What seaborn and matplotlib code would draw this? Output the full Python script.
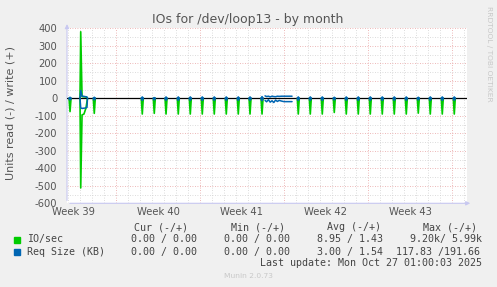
import numpy as np
import pandas as pd
import seaborn as sns
import matplotlib
matplotlib.use("Agg")
import matplotlib.pyplot as plt
from matplotlib.patches import Rectangle

# ---------------- data (days relative to start of Week 40) ----------------
spike_days = [-3.83, -1.81, 2.19, 3.19, 4.17, 5.19, 6.19, 7.19, 8.19, 9.19, 10.19,
              11.17, 12.17, 15.19, 16.19, 17.19, 18.19, 19.19, 20.19, 21.19, 22.19,
              23.19, 24.19, 25.19, 26.19, 27.19, 28.19]
io_read_peak = [-76, -86, -90, -86, -90, -90, -90, -90, -90, -90, -90,
                -90, -90, -90, -90, -90, -81, -90, -90, -90, -90,
                -90, -90, -85, -90, -90, -90]
req_write_peak = [6, 6, 8, 4, 8, 8, 8, 8, 8, 8, 8,
                  8, 10, 8, 8, 8, 6, 8, 8, 8, 8,
                  8, 8, 6, 8, 8, 8]
req_read_peak = [-10, -10, -12, -10, -12, -12, -12, -12, -12, -12, -12,
                 -12, -14, -12, -12, -12, -10, -12, -12, -12, -12,
                 -12, -12, -10, -12, -12, -12]

# big event around Week 39
big_io_write_days = [-3.0, -2.94, -2.83, -2.5, -2.375]
big_io_write_vals = [0, 380, 10, 8, 0]
big_io_read_days = [-3.0, -2.94, -2.83, -2.67, -2.5, -2.375]
big_io_read_vals = [0, -512, -95, -90, -55, 0]
big_req_write_days = [-3.0, -2.94, -2.83, -2.6, -2.42, -2.375]
big_req_write_vals = [0, 45, 12, 10, 8, 0]
big_req_read_days = [-3.0, -2.94, -2.83, -2.6, -2.42, -2.375]
big_req_read_vals = [0, -55, -58, -56, -52, 0]

# noisy request-size stretch in Week 41
noise_days = [12.42, 12.55, 12.7, 12.85, 13.0, 13.15, 13.3, 13.45, 13.6, 13.8, 14.0, 14.3, 14.67]
noise_write = [14, 10, 12, 8, 12, 10, 9, 12, 11, 12, 12, 12, 12]
noise_read = [-12, -20, -8, -22, -14, -24, -10, -18, -12, -16, -19, -19, -19]

week_labels = ["Week 39", "Week 40", "Week 41", "Week 42", "Week 43"]
week_centers = [-3.5, 3.5, 10.5, 17.5, 24.5]
y_ticks = [-600, -500, -400, -300, -200, -100, 0, 100, 200, 300, 400]

legend_header = ["Cur (-/+)", "Min (-/+)", "Avg (-/+)", "Max (-/+)"]
io_stats = ["0.00 / 0.00", "0.00 / 0.00", "8.95 / 1.43", "9.20k/ 5.99k"]
req_stats = ["0.00 / 0.00", "0.00 / 0.00", "3.00 / 1.54", "117.83 /191.66"]

GREEN = "#00cc00"
BLUE = "#0066b3"

# ---------------- build long-form tables ----------------
HW = 1.0 / 12.0  # one 2-hour sample either side
rows_io, rows_req = [], []
seg = 0
for d, r in zip(spike_days, io_read_peak):
    for x, v in [(d - HW, 0), (d, r), (d + HW, 0)]:
        rows_io.append((x, v, seg))
    seg += 1
for x, v in zip(big_io_write_days, big_io_write_vals):
    rows_io.append((x, v, seg))
seg += 1
for x, v in zip(big_io_read_days, big_io_read_vals):
    rows_io.append((x, v, seg))
seg += 1

for d, w, r in zip(spike_days, req_write_peak, req_read_peak):
    for x, v in [(d - HW, 0), (d, w), (d + HW, 0)]:
        rows_req.append((x, v, seg))
    seg += 1
    for x, v in [(d - HW, 0), (d, r), (d + HW, 0)]:
        rows_req.append((x, v, seg))
    seg += 1
for x, v in zip(big_req_write_days, big_req_write_vals):
    rows_req.append((x, v, seg))
seg += 1
for x, v in zip(big_req_read_days, big_req_read_vals):
    rows_req.append((x, v, seg))
seg += 1
for x, v in zip(noise_days, noise_write):
    rows_req.append((x, v, seg))
seg += 1
for x, v in zip(noise_days, noise_read):
    rows_req.append((x, v, seg))
seg += 1

df_io = pd.DataFrame(rows_io, columns=["day", "value", "seg"])
df_req = pd.DataFrame(rows_req, columns=["day", "value", "seg"])

# ---------------- figure ----------------
sns.set_theme(style="white")
plt.rcParams["font.family"] = ["DejaVu Sans"]
plt.rcParams["axes.unicode_minus"] = False

W, H = 497, 287
fig = plt.figure(figsize=(W / 100, H / 100), dpi=100, facecolor="#f0f0f0")
L, R, T, B = 67, 467, 28.3, 203.3
ax = fig.add_axes([L / W, 1 - B / H, (R - L) / W, (B - T) / H])
ax.set_facecolor("white")

XMIN, XMAX = (L - 116) / 12.0, (R - 116) / 12.0
ax.set_xlim(XMIN, XMAX)
ax.set_ylim(-600, 400)

# grid
for d in range(-4, 30):
    if XMIN < d < XMAX:
        c = "#e8a0a0" if d % 7 == 0 else "#d0d0d0"
        ax.axvline(d, color=c, lw=0.6, ls=(0, (1, 2)), zorder=1)
for yv in range(-550, 401, 50):
    c = "#e8a0a0" if yv % 100 == 0 else "#d0d0d0"
    ax.axhline(yv, color=c, lw=0.6, ls=(0, (1, 2)), zorder=1)

sns.lineplot(data=df_io, x="day", y="value", units="seg", estimator=None,
             color=GREEN, lw=1.2, sort=False, ax=ax, legend=False, zorder=3)
ax.axhline(0, color="black", lw=0.9, zorder=4)
sns.lineplot(data=df_req, x="day", y="value", units="seg", estimator=None,
             color=BLUE, lw=1.1, sort=False, ax=ax, legend=False, zorder=5)

for s in ax.spines.values():
    s.set_visible(False)

ax.set_xticks(week_centers)
ax.set_xticklabels(week_labels)
ax.set_yticks(y_ticks)
ax.set_yticklabels([str(v) for v in y_ticks])
ax.tick_params(axis="both", length=0, labelsize=7.2, colors="#555555")
ax.tick_params(axis="y", pad=7)
ax.tick_params(axis="x", pad=3)
ax.set_xlabel("")
ax.set_ylabel("")

# axis arrows
acol = "#c8c8f0"
ax.annotate("", xy=(0, 1 + 7 / 175), xytext=(0, 0), xycoords="axes fraction",
            arrowprops=dict(arrowstyle="-|>", color=acol, lw=0.8, mutation_scale=6))
ax.annotate("", xy=(1 + 6 / 400, 0), xytext=(0, 0), xycoords="axes fraction",
            arrowprops=dict(arrowstyle="-|>", color=acol, lw=0.8, mutation_scale=6))

def ft(px, py, s, **kw):
    fig.text(px / W, 1 - py / H, s, **kw)

ft(248, 19.5, "IOs for /dev/loop13 - by month", ha="center", va="center",
   fontsize=9, color="#555555")
ft(11, 113.5, "Units read (-) / write (+)", ha="center", va="center",
   rotation=90, fontsize=8, color="#555555")
ft(488.5, 53.5, "RRDTOOL / TOBI OETIKER", ha="center", va="center",
   rotation=270, fontsize=5.4, color="#c8c8c8")
ft(248, 276, "Munin 2.0.73", ha="center", va="center", fontsize=5.4, color="#c8c8c8")

mono = dict(family="DejaVu Sans Mono", fontsize=7.2, color="#444444", va="center")
for x0, s in zip([134, 231, 327, 423], legend_header):
    ft(x0, 227.3, s, **mono)
ft(26.7, 239.3, "IO/sec", **mono)
ft(26.7, 251.7, "Req Size (KB)", **mono)
for x0, s in zip([131, 223.5, 317, 410], io_stats):
    ft(x0, 239.3, s, **mono)
for x0, s in zip([131, 223.5, 317, 396], req_stats):
    ft(x0, 251.7, s, **mono)
ft(482, 263.3, "Last update: Mon Oct 27 01:00:03 2025", ha="right", **mono)

fig.patches.append(Rectangle((14 / W, 1 - 243 / H), 6 / W, 6 / H,
                             transform=fig.transFigure, color=GREEN))
fig.patches.append(Rectangle((14 / W, 1 - 255 / H), 6 / W, 6 / H,
                             transform=fig.transFigure, color=BLUE))

fig.savefig("out.png", dpi=100, facecolor=fig.get_facecolor())
